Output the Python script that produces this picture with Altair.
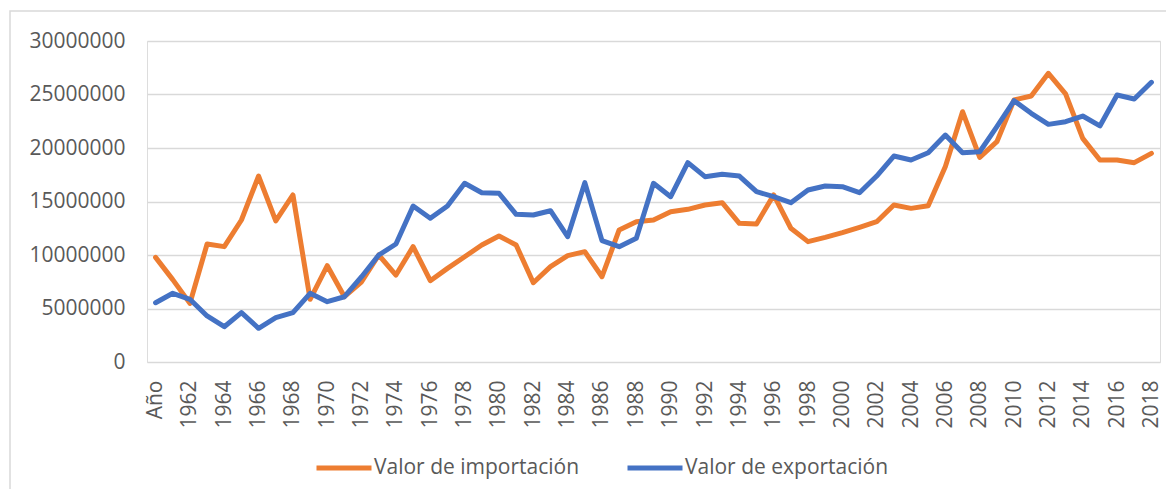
import altair as alt
import pandas as pd

years = ["Año", "1961", "1962", "1963", "1964", "1965", "1966", "1967", "1968", "1969",
         "1970", "1971", "1972", "1973", "1974", "1975", "1976", "1977", "1978", "1979",
         "1980", "1981", "1982", "1983", "1984", "1985", "1986", "1987", "1988", "1989",
         "1990", "1991", "1992", "1993", "1994", "1995", "1996", "1997", "1998", "1999",
         "2000", "2001", "2002", "2003", "2004", "2005", "2006", "2007", "2008", "2009",
         "2010", "2011", "2012", "2013", "2014", "2015", "2016", "2017", "2018"]

importacion = [9780000, 7700000, 5480000, 11030000, 10780000, 13270000, 17380000, 13180000, 15610000, 5860000,
               9000000, 6100000, 7500000, 10000000, 8130000, 10780000, 7600000, 8750000, 9840000, 10930000,
               11780000, 10930000, 7410000, 8910000, 9940000, 10310000, 7970000, 12340000, 13110000, 13270000,
               14050000, 14270000, 14670000, 14890000, 12960000, 12900000, 15610000, 12500000, 11250000, 11650000,
               12090000, 12590000, 13110000, 14670000, 14360000, 14610000, 18260000, 23390000, 19130000, 20590000,
               24490000, 24860000, 26980000, 25050000, 20900000, 18880000, 18880000, 18630000, 19500000]

exportacion = [5540000, 6420000, 5860000, 4300000, 3300000, 4610000, 3150000, 4140000, 4610000, 6420000,
               5640000, 6100000, 7970000, 10000000, 11030000, 14580000, 13430000, 14580000, 16700000, 15820000,
               15770000, 13800000, 13740000, 14140000, 11710000, 16760000, 11340000, 10780000, 11560000, 16700000,
               15450000, 18630000, 17320000, 17540000, 17380000, 15920000, 15450000, 14890000, 16070000, 16450000,
               16380000, 15820000, 17380000, 19250000, 18880000, 19560000, 21210000, 19560000, 19650000, 21990000,
               24420000, 23240000, 22210000, 22460000, 22990000, 22060000, 24950000, 24580000, 26140000]

series_names = ["Valor de importación", "Valor de exportación"]
series_colors = ["#ED7D31", "#4472C4"]
y_ticks = [0, 5000000, 10000000, 15000000, 20000000, 25000000, 30000000]

df = pd.DataFrame({
    "Año": years * 2,
    "valor": importacion + exportacion,
    "serie": [series_names[0]] * len(years) + [series_names[1]] * len(years),
})

FONT = "Open Sans"
TXT = "#595959"

x_enc = alt.X("Año:O", sort=years, scale=alt.Scale(domain=years),
              axis=alt.Axis(values=years[::2], labelAngle=-90, labelFontSize=21,
                            labelColor=TXT, labelFont=FONT, labelPadding=18,
                            domain=False, ticks=False, tickSize=0, grid=False,
                            title=None, labelOverlap=False))
y_enc = alt.Y("valor:Q", scale=alt.Scale(domain=[0, 30000000], nice=False),
              axis=alt.Axis(values=y_ticks, format="d", labelFontSize=21, labelColor=TXT,
                            labelFont=FONT, labelPadding=22, domain=False, ticks=False,
                            tickSize=0, gridColor="#d9d9d9", gridWidth=1.6, title=None))
color_enc = alt.Color("serie:N",
                      scale=alt.Scale(domain=series_names, range=series_colors),
                      legend=alt.Legend(title=None, orient="none", direction="horizontal",
                                        legendX=167, legendY=397, symbolType="stroke",
                                        symbolSize=3025, symbolStrokeWidth=5,
                                        labelFontSize=21, labelFont=FONT, labelColor=TXT,
                                        labelOffset=0, columnPadding=37, padding=0,
                                        labelLimit=400))

frame = alt.Chart(pd.DataFrame({"k": [0]})).mark_rect(
    fill="white", fillOpacity=0, stroke="#d9d9d9", strokeWidth=1.5
).encode(x=alt.value(-137), x2=alt.value(1300), y=alt.value(-30), y2=alt.value(700))

base = alt.Chart(df)
line_imp = base.transform_filter(alt.datum.serie == series_names[0]).mark_line(
    strokeWidth=5, strokeCap="round", strokeJoin="round"
).encode(x=x_enc, y=y_enc, color=color_enc)
line_exp = base.transform_filter(alt.datum.serie == series_names[1]).mark_line(
    strokeWidth=5, strokeCap="round", strokeJoin="round"
).encode(x=x_enc, y=y_enc, color=color_enc)

chart = alt.layer(frame, line_imp, line_exp).properties(
    width=1013, height=321,
    autosize=alt.AutoSizeParams(type="none"),
    padding={"left": 139, "top": 33, "right": 6, "bottom": 127},
).configure_view(stroke=None).configure(font=FONT)

chart.save("out.html", embed_options={"renderer": "svg", "actions": False})
